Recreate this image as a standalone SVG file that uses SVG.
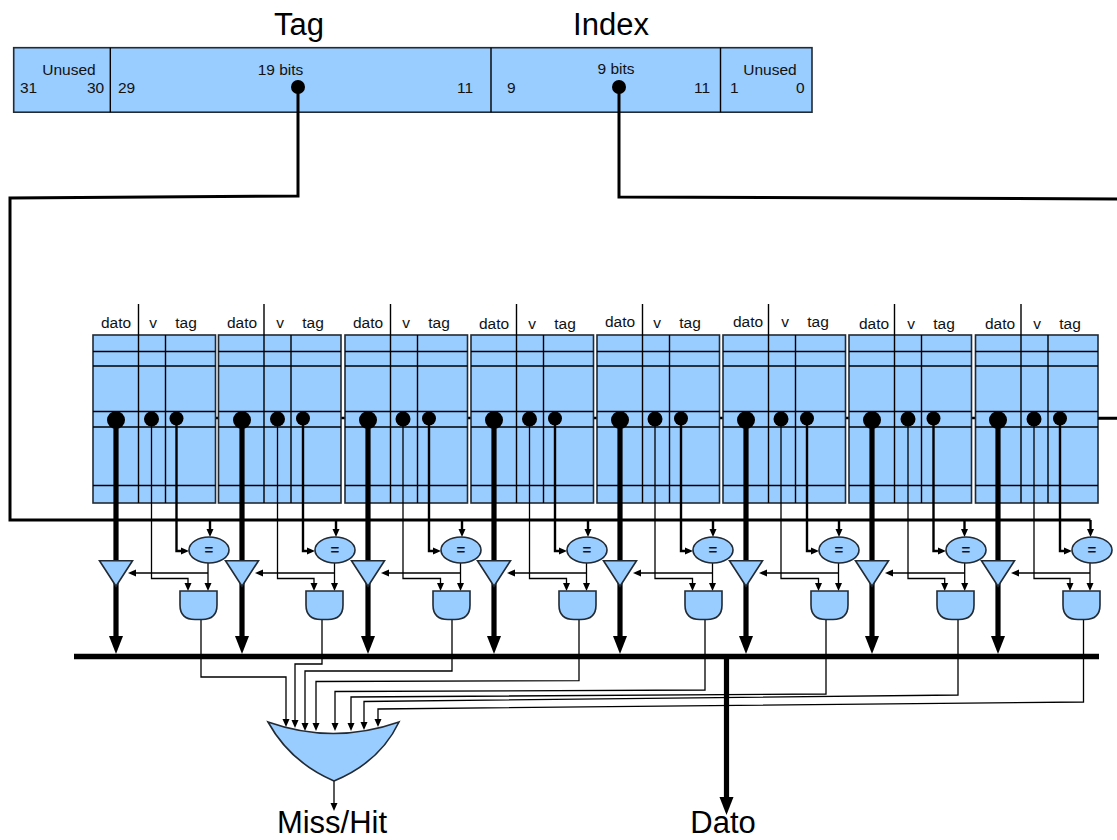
<svg xmlns="http://www.w3.org/2000/svg" width="1117" height="840" viewBox="0 0 1117 840">
<style>
text{font-family:"Liberation Sans",Arial,sans-serif;fill:#111}
.s{font-size:15.5px}
.m{text-anchor:middle}
.e{font-size:15px;font-weight:bold}
.b{font-size:31px;text-anchor:middle;fill:#000}
.f{fill:#99ccff;stroke:#222a33;stroke-width:1.6}
.g{stroke:#000;stroke-width:1.4;fill:none}
.c{fill:none;stroke:#000}
.w1{stroke-width:1.3}
.w2{stroke-width:2.4}
.w3{stroke-width:3}
.w5{stroke-width:5.2}
.a{marker-end:url(#sm)}
.A{marker-end:url(#bg)}
.d{fill:#000}
</style>
<defs>
<marker id="sm" markerUnits="userSpaceOnUse" markerWidth="8" markerHeight="8" refX="0" refY="0" orient="auto" overflow="visible"><path d="M-1,-3.5 L7,0 L-1,3.5 Z" fill="#000"/></marker>
<marker id="bg" markerUnits="userSpaceOnUse" markerWidth="20" markerHeight="16" refX="0" refY="0" orient="auto" overflow="visible"><path d="M0,-7 L18,0 L0,7 Z" fill="#000"/></marker>
<g id="wayShape">
<rect class="f" x="0" y="0" width="122.5" height="168"/>
<path class="g" d="M0,16.5 H122.5 M0,31 H122.5 M0,76.5 H122.5 M0,92 H122.5 M0,150.5 H122.5 M45.5,-31 V168 M72.5,0 V168"/>
</g>
<path id="gateShape" class="f" d="M0,0 H37 V14 Q37,28.5 22,28.5 H15 Q0,28.5 0,14 Z"/>
<path id="triShape" class="f" d="M-16.5,0 H16.5 L0,25.5 Z"/>
</defs>

<g id="row-select"><path class="c w2" d="M93,418 H1117"/></g>

<g id="register">
<rect class="f" x="13.7" y="47.7" width="798.3" height="64.5"/>
<path class="g" d="M110.3,47.7 V112.2 M491,47.7 V112.2 M720.5,47.7 V112.2"/>
<text class="s m" x="69" y="75">Unused</text>
<text class="s" x="20" y="92.5">31</text><text class="s" x="87" y="92.5">30</text><text class="s" x="118" y="92.5">29</text>
<text class="s m" x="280.5" y="74.5">19 bits</text>
<text class="s" x="457" y="92.5">11</text><text class="s" x="507" y="92.5">9</text>
<text class="s m" x="616" y="73.5">9 bits</text>
<text class="s" x="694" y="92.5">11</text>
<text class="s m" x="770" y="74.5">Unused</text>
<text class="s" x="730" y="92.5">1</text><text class="s" x="796" y="92.5">0</text>
</g>
<g id="title-tag"><text class="b" x="299" y="35">Tag</text></g>
<g id="title-index"><text class="b" x="611" y="35">Index</text></g>

<g id="way1"><use href="#wayShape" x="93" y="335"/><text class="s m" x="116" y="328">dato</text><text class="s m" x="153" y="328">v</text><text class="s m" x="186" y="328">tag</text></g>
<g id="way2"><use href="#wayShape" x="218.5" y="335"/><text class="s m" x="242" y="328">dato</text><text class="s m" x="280" y="328">v</text><text class="s m" x="313" y="328">tag</text></g>
<g id="way3"><use href="#wayShape" x="345" y="335"/><text class="s m" x="368" y="328">dato</text><text class="s m" x="406" y="328">v</text><text class="s m" x="439" y="328">tag</text></g>
<g id="way4"><use href="#wayShape" x="471" y="335"/><text class="s m" x="494" y="329">dato</text><text class="s m" x="532" y="329">v</text><text class="s m" x="565" y="329">tag</text></g>
<g id="way5"><use href="#wayShape" x="597" y="335"/><text class="s m" x="620" y="327">dato</text><text class="s m" x="657" y="328">v</text><text class="s m" x="690" y="328">tag</text></g>
<g id="way6"><use href="#wayShape" x="723" y="335"/><text class="s m" x="748" y="327">dato</text><text class="s m" x="785" y="327">v</text><text class="s m" x="818" y="327">tag</text></g>
<g id="way7"><use href="#wayShape" x="849" y="335"/><text class="s m" x="874" y="329">dato</text><text class="s m" x="911" y="329">v</text><text class="s m" x="944" y="329">tag</text></g>
<g id="way8"><use href="#wayShape" x="975.5" y="335"/><text class="s m" x="1000" y="329">dato</text><text class="s m" x="1037" y="329">v</text><text class="s m" x="1070" y="329">tag</text></g>

<g id="connectors">
<path class="c w3" d="M298,87 V196 L10,198 V520 H1090.5"/>
<path class="c w3" d="M619,87 V197 L1117,199"/>
<path class="c w2" d="M1098,418.5 H1117"/>

<g id="outputs">
<path class="c w1 a" d="M201,619.5 V677 H286 V720"/>
<path class="c w1 a" d="M322,619.5 V664 H295 V721"/>
<path class="c w1 a" d="M452,619.5 V671 H305 V724"/>
<path class="c w1 a" d="M579,619.5 V680.7 L316,681.5 V724"/>
<path class="c w1 a" d="M705,619.5 V690 L335,691.5 V724"/>
<path class="c w1 a" d="M826,619.5 V694 L351,697 V724"/>
<path class="c w1 a" d="M958,619.5 V695 L364,701.5 V723"/>
<path class="c w1 a" d="M1083.5,619.5 V702 L378,709 V720"/>
</g>

<g id="data-lines">
<path class="c w5" d="M116,420 V561 M242,420 V561 M368,420 V561 M494,420 V561 M620,420 V561 M746,420 V561 M872,420 V561 M998,420 V561"/>
<path class="c w5 A" d="M116,582 V636"/><path class="c w5 A" d="M242,582 V636"/><path class="c w5 A" d="M368,582 V636"/><path class="c w5 A" d="M494,582 V636"/><path class="c w5 A" d="M620,582 V636"/><path class="c w5 A" d="M746,582 V636"/><path class="c w5 A" d="M872,582 V636"/><path class="c w5 A" d="M998,582 V636"/>
</g>

<g id="valid-lines">
<path class="c w1 a" d="M151.5,419 V578.5 H188 V584"/><path class="c w1 a" d="M277.5,419 V578.5 H314 V584"/><path class="c w1 a" d="M403,419 V578.5 H440.5 V584"/><path class="c w1 a" d="M529.5,419 V578.5 H566.5 V584"/><path class="c w1 a" d="M655,419 V578.5 H692.5 V584"/><path class="c w1 a" d="M781,419 V578.5 H818.5 V584"/><path class="c w1 a" d="M908,419 V578.5 H944.7 V584"/><path class="c w1 a" d="M1034,419 V578.5 H1070 V584"/>
</g>

<g id="tag-lines">
<path class="c w2 a" d="M176.5,418.5 V551 H182"/><path class="c w2 a" d="M303,418.5 V551 H308"/><path class="c w2 a" d="M429,418.5 V551 H434"/><path class="c w2 a" d="M555,418.5 V551 H560"/><path class="c w2 a" d="M681,418.5 V551 H686"/><path class="c w2 a" d="M807,418.5 V551 H812"/><path class="c w2 a" d="M933.5,418.5 V551 H939"/><path class="c w2 a" d="M1060,418.5 V551 H1065"/>
</g>

<g id="tag-drops">
<path class="c w2 a" d="M210,520 V530"/><path class="c w2 a" d="M336,520 V530"/><path class="c w2 a" d="M462,520 V530"/><path class="c w2 a" d="M588,520 V530"/><path class="c w2 a" d="M713,520 V530"/><path class="c w2 a" d="M839,520 V530"/><path class="c w2 a" d="M964.5,520 V530"/><path class="c w2 a" d="M1090.5,520 V530"/>
</g>

<g id="compare-to-and">
<path class="c w1 a" d="M208,563 V584"/><path class="c w1 a" d="M334.5,563 V584"/><path class="c w1 a" d="M460.5,563 V584"/><path class="c w1 a" d="M586.5,563 V584"/><path class="c w1 a" d="M712.5,563 V584"/><path class="c w1 a" d="M838.5,563 V584"/><path class="c w1 a" d="M964.7,563 V584"/><path class="c w1 a" d="M1090,563 V584"/>
</g>

<g id="compare-to-buffer">
<path class="c w1 a" d="M208,573 H135"/><path class="c w1 a" d="M334.5,573 H262"/><path class="c w1 a" d="M460.5,573 H388"/><path class="c w1 a" d="M586.5,573 H514"/><path class="c w1 a" d="M712.5,573 H640"/><path class="c w1 a" d="M838.5,573 H766"/><path class="c w1 a" d="M964.7,573 H892"/><path class="c w1 a" d="M1090,573 H1018"/>
</g>

<g id="result-lines">
<path class="c w1 a" d="M334,781 V804"/>
<path class="c w5 A" d="M726.5,656 V797"/>
</g>

<path id="data-bus" class="c" stroke-width="5.5" d="M74,656.5 H1099"/>

<g id="pins">
<circle class="d" cx="298" cy="87" r="7"/><circle class="d" cx="619" cy="87" r="7"/>
<circle class="d" cx="116" cy="420" r="9"/><circle class="d" cx="151.5" cy="419" r="7.5"/><circle class="d" cx="176.5" cy="418.5" r="7"/>
<circle class="d" cx="242" cy="420" r="9"/><circle class="d" cx="277.5" cy="419" r="7.5"/><circle class="d" cx="303" cy="418.5" r="7"/>
<circle class="d" cx="368" cy="420" r="9"/><circle class="d" cx="403" cy="419" r="7.5"/><circle class="d" cx="429" cy="418.5" r="7"/>
<circle class="d" cx="494" cy="420" r="9"/><circle class="d" cx="529.5" cy="419" r="7.5"/><circle class="d" cx="555" cy="418.5" r="7"/>
<circle class="d" cx="620" cy="420" r="9"/><circle class="d" cx="655" cy="419" r="7.5"/><circle class="d" cx="681" cy="418.5" r="7"/>
<circle class="d" cx="746" cy="420" r="9"/><circle class="d" cx="781" cy="419" r="7.5"/><circle class="d" cx="807" cy="418.5" r="7"/>
<circle class="d" cx="872" cy="420" r="9"/><circle class="d" cx="908" cy="419" r="7.5"/><circle class="d" cx="933.5" cy="418.5" r="7"/>
<circle class="d" cx="998" cy="420" r="9"/><circle class="d" cx="1034" cy="419" r="7.5"/><circle class="d" cx="1060" cy="418.5" r="7"/>
</g>
</g>

<g id="cmp1"><ellipse class="f" cx="209" cy="550" rx="20" ry="13"/><text class="m e" x="209" y="555">=</text></g>
<g id="cmp2"><ellipse class="f" cx="335" cy="550" rx="20" ry="13"/><text class="m e" x="335" y="555">=</text></g>
<g id="cmp3"><ellipse class="f" cx="461" cy="550" rx="20" ry="13"/><text class="m e" x="461" y="555">=</text></g>
<g id="cmp4"><ellipse class="f" cx="587" cy="550" rx="20" ry="13"/><text class="m e" x="587" y="555">=</text></g>
<g id="cmp5"><ellipse class="f" cx="713" cy="550" rx="20" ry="13"/><text class="m e" x="713" y="555">=</text></g>
<g id="cmp6"><ellipse class="f" cx="839" cy="550" rx="20" ry="13"/><text class="m e" x="839" y="555">=</text></g>
<g id="cmp7"><ellipse class="f" cx="966" cy="550" rx="20" ry="13"/><text class="m e" x="966" y="555">=</text></g>
<g id="cmp8"><ellipse class="f" cx="1092" cy="550" rx="20" ry="13"/><text class="m e" x="1092" y="555">=</text></g>

<g id="buf1"><use href="#triShape" x="116" y="560.7"/></g>
<g id="buf2"><use href="#triShape" x="242" y="560.7"/></g>
<g id="buf3"><use href="#triShape" x="368" y="560.7"/></g>
<g id="buf4"><use href="#triShape" x="494" y="560.7"/></g>
<g id="buf5"><use href="#triShape" x="620" y="560.7"/></g>
<g id="buf6"><use href="#triShape" x="746" y="560.7"/></g>
<g id="buf7"><use href="#triShape" x="872" y="560.7"/></g>
<g id="buf8"><use href="#triShape" x="998" y="560.7"/></g>

<g id="and1"><use href="#gateShape" x="180" y="591"/></g>
<g id="and2"><use href="#gateShape" x="306" y="591"/></g>
<g id="and3"><use href="#gateShape" x="433" y="591"/></g>
<g id="and4"><use href="#gateShape" x="559" y="591"/></g>
<g id="and5"><use href="#gateShape" x="685" y="591"/></g>
<g id="and6"><use href="#gateShape" x="811" y="591"/></g>
<g id="and7"><use href="#gateShape" x="937" y="591"/></g>
<g id="and8"><use href="#gateShape" x="1063" y="591"/></g>

<g id="or-gate"><path class="f" d="M268,722 Q333,745 399,722 Q380,762 334,781 Q290,762 268,722 Z"/></g>
<g id="label-miss"><text class="b" x="332" y="833">Miss/Hit</text></g>
<g id="label-dato"><text class="b" x="723" y="833">Dato</text></g>
</svg>
